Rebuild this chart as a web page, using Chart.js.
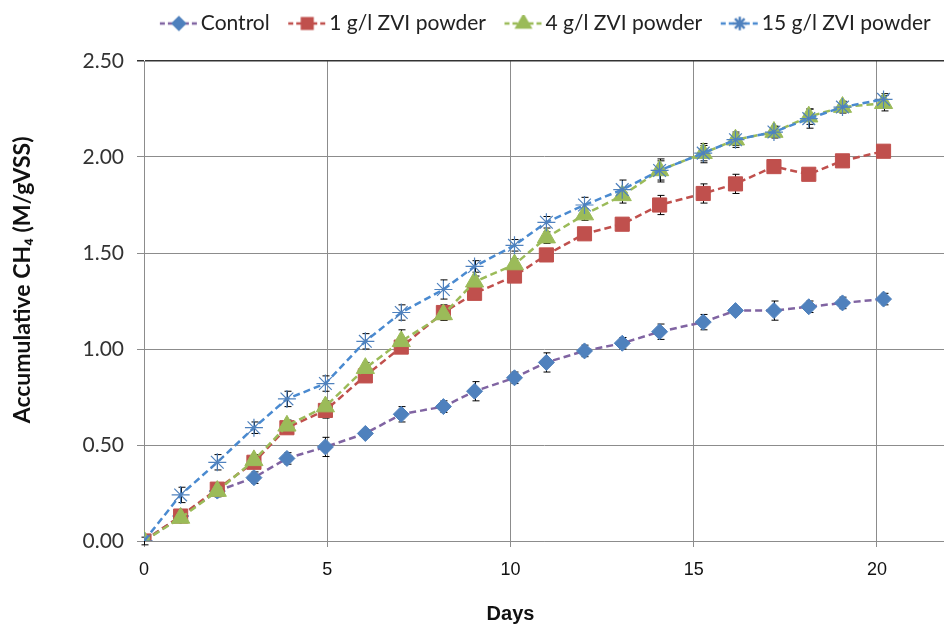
<!DOCTYPE html>
<html>
<head>
<meta charset="utf-8">
<script src="https://cdn.jsdelivr.net/npm/chart.js@4.4.1/dist/chart.umd.min.js"></script>
<style>
  html, body { margin: 0; padding: 0; background: #fff; }
  #wrap { width: 944px; height: 626px; }
</style>
</head>
<body>
<div id="wrap"><canvas id="ch4Chart" width="944" height="626"></canvas></div>
<script>
// Sample days (x values)
const days = [0, 1, 2, 3, 3.9, 4.95, 6.04, 7.02, 8.17, 9.02, 10.11, 10.98, 12.02, 13.05, 14.07, 15.26, 16.14, 17.19, 18.14, 19.06, 20.18];

// Accumulative CH4 per series
const control = [0, 0.13, 0.26, 0.33, 0.43, 0.49, 0.56, 0.66, 0.70, 0.78, 0.85, 0.93, 0.99, 1.03, 1.09, 1.14, 1.20, 1.20, 1.22, 1.24, 1.26];
const zvi1 = [0, 0.13, 0.27, 0.41, 0.59, 0.68, 0.86, 1.01, 1.19, 1.29, 1.38, 1.49, 1.60, 1.65, 1.75, 1.81, 1.86, 1.95, 1.91, 1.98, 2.03];
const zvi4 = [0, 0.12, 0.26, 0.42, 0.60, 0.70, 0.90, 1.04, 1.18, 1.35, 1.44, 1.58, 1.70, 1.80, 1.93, 2.02, 2.09, 2.13, 2.21, 2.26, 2.28];
const zvi15 = [0, 0.24, 0.41, 0.59, 0.74, 0.82, 1.04, 1.19, 1.31, 1.43, 1.54, 1.66, 1.75, 1.83, 1.93, 2.02, 2.09, 2.13, 2.20, 2.26, 2.30];

// Error bar half-heights
const controlErr = [0.02, 0.02, 0.02, 0.03, 0.03, 0.05, 0.02, 0.04, 0.03, 0.05, 0.03, 0.05, 0.03, 0.03, 0.04, 0.04, 0.02, 0.05, 0.03, 0.03, 0.03];
const zvi1Err = [0, 0.02, 0.03, 0.03, 0.03, 0.04, 0.03, 0.03, 0.04, 0.02, 0.03, 0.03, 0.02, 0.03, 0.05, 0.05, 0.05, 0.02, 0.03, 0.02, 0.03];
const zvi4Err = [0, 0.02, 0.03, 0.03, 0.03, 0.03, 0.03, 0.06, 0.03, 0.03, 0.03, 0.03, 0.03, 0.04, 0.05, 0.04, 0.03, 0.03, 0.04, 0.03, 0.04];
const zvi15Err = [0, 0.04, 0.04, 0.03, 0.04, 0.04, 0.04, 0.04, 0.05, 0.03, 0.03, 0.03, 0.04, 0.05, 0.06, 0.05, 0.04, 0.03, 0.05, 0.03, 0.03];

const seriesNames = ["Control", "1 g/l ZVI powder", "4 g/l ZVI powder", "15 g/l ZVI powder"];
const yTicks = [0, 0.5, 1, 1.5, 2, 2.5];
const xTicks = [0, 5, 10, 15, 20];
const xTitle = "Days";
const yTitle = "Accumulative CH\u2084 (M/gVSS)";

function toPoints(values) {
    return values.map((v, i) => ({ x: days[i], y: v }));
}

// "--marker--" image for the legend; drawn on the right part of a wider canvas
function legendIcon(lineColor, fill, style, radius) {
    const c = document.createElement("canvas");
    c.width = 60;
    c.height = 18;
    const g = c.getContext("2d");
    g.strokeStyle = lineColor;
    g.lineWidth = 2.5;
    g.setLineDash([5, 3]);
    g.beginPath();
    g.moveTo(22, 9);
    g.lineTo(60, 9);
    g.stroke();
    g.setLineDash([]);
    g.fillStyle = fill;
    g.strokeStyle = fill;
    Chart.helpers.drawPoint(g, { pointStyle: style, rotation: 0, radius: radius, borderWidth: 1 }, 41, 9);
    return c;
}

const errorBars = {
    id: "errorBars",
    beforeDatasetsDraw(chart) {
        const { ctx, scales: { x, y } } = chart;
        ctx.save();
        ctx.strokeStyle = "#000";
        ctx.lineWidth = 1;
        chart.data.datasets.forEach((ds) => {
            ds.data.forEach((p, j) => {
                const e = ds.errors[j];
                if (!e) return;
                const px = Math.round(x.getPixelForValue(p.x)) + 0.5;
                const top = y.getPixelForValue(p.y + e);
                const bot = y.getPixelForValue(p.y - e);
                ctx.beginPath();
                ctx.moveTo(px, top);
                ctx.lineTo(px, bot);
                ctx.moveTo(px - 3, top);
                ctx.lineTo(px + 4, top);
                ctx.moveTo(px - 3, bot);
                ctx.lineTo(px + 4, bot);
                ctx.stroke();
            });
        });
        ctx.restore();
    }
};

// legend spacing tweaks + axis titles placed like the original
const layoutTweak = {
    id: "layoutTweak",
    beforeInit(chart) {
        const legend = chart.legend;
        const fit = legend.fit;
        legend.fit = function () {
            fit.call(this);
            this.height += 17;
        };
        const draw = legend.draw;
        legend.draw = function () {
            const l = this.left, r = this.right;
            this.left += 66;
            this.right += 66;
            draw.call(this);
            this.left = l;
            this.right = r;
        };
    },
    afterDraw(chart) {
        const { ctx, scales: { x, y } } = chart;
        ctx.save();
        ctx.fillStyle = "#111";
        ctx.textAlign = "center";
        ctx.textBaseline = "middle";
        ctx.font = "bold 20px 'Liberation Sans Narrow', 'Arial Narrow', 'Liberation Sans', sans-serif";
        ctx.fillText(xTitle, x.getPixelForValue(10), 614);
        ctx.translate(23, y.getPixelForValue(1.36));
        ctx.rotate(-Math.PI / 2);
        ctx.font = "bold 23px Lato, 'Noto Sans', sans-serif";
        ctx.fillText(yTitle, 0, 0);
        ctx.restore();
    }
};

function makeDataset(i, values, errs, color, lineColor, style, radius, order) {
    return {
        label: seriesNames[i],
        data: toPoints(values),
        errors: errs,
        showLine: true,
        borderColor: lineColor,
        borderWidth: 2.5,
        borderDash: [7, 4],
        pointStyle: style,
        pointRadius: radius,
        pointBackgroundColor: color,
        pointBorderColor: color,
        pointBorderWidth: style === "star" ? 1.2 : 1,
        order: order,
        legendIcon: legendIcon(lineColor, color, style, radius * 0.75)
    };
}

const datasets = [
    makeDataset(0, control, controlErr, "#4F81BD", "#8064A2", "rectRot", 8, 4),
    makeDataset(1, zvi1, zvi1Err, "#C0504D", "#C0504D", "rect", 10, 3),
    makeDataset(2, zvi4, zvi4Err, "#9BBB59", "#9BBB59", "triangle", 10.5, 2),
    makeDataset(3, zvi15, zvi15Err, "#4F81BD", "#4A8AD0", "star", 9, 1)
];

new Chart(document.getElementById("ch4Chart"), {
    type: "scatter",
    data: { datasets: datasets },
    plugins: [errorBars, layoutTweak],
    options: {
        responsive: false,
        animation: false,
        layout: { autoPadding: false, padding: { left: 0, right: 0, top: 9, bottom: 0 } },
        plugins: {
            tooltip: { enabled: false },
            legend: {
                position: "top",
                labels: {
                    usePointStyle: true,
                    pointStyleWidth: 45,
                    padding: 4,
                    color: "#222",
                    font: { family: "Lato, 'Noto Sans', sans-serif", size: 21 },
                    generateLabels(chart) {
                        return chart.data.datasets.map((ds, i) => ({
                            text: ds.label,
                            pointStyle: ds.legendIcon,
                            fillStyle: ds.pointBackgroundColor,
                            strokeStyle: ds.borderColor,
                            lineWidth: 0,
                            hidden: false,
                            datasetIndex: i,
                            fontColor: "#222"
                        }));
                    }
                }
            }
        },
        scales: {
            x: {
                type: "linear",
                min: 0,
                max: 21.83,
                afterFit(scale) {
                    scale.height = 85;
                    scale.paddingLeft = 0;
                    scale.paddingRight = 0;
                },
                afterBuildTicks(scale) { scale.ticks = xTicks.map((v) => ({ value: v })); },
                ticks: {
                    includeBounds: false,
                    padding: 12,
                    color: "#111",
                    font: { family: "'Liberation Sans Narrow', 'Arial Narrow', 'Liberation Sans', sans-serif", size: 18 }
                },
                grid: { color: "#8c8c8c", lineWidth: 1, tickLength: 6, drawTicks: true },
                border: { color: "#8c8c8c", width: 1 }
            },
            y: {
                min: 0,
                max: 2.5,
                afterFit(scale) { scale.width = 144; },
                afterBuildTicks(scale) { scale.ticks = yTicks.map((v) => ({ value: v })); },
                ticks: {
                    padding: 13,
                    color: "#333",
                    font: { family: "Lato, 'Noto Sans', sans-serif", size: 21 },
                    callback: (v) => Number(v).toFixed(2)
                },
                grid: {
                    color: (c) => (c.tick && c.tick.value === 2.5 ? "#333" : "#8c8c8c"),
                    lineWidth: (c) => (c.tick && c.tick.value === 2.5 ? 1.5 : 1),
                    tickLength: 7
                },
                border: { color: "#8c8c8c", width: 1 }
            }
        }
    }
});
</script>
</body>
</html>
